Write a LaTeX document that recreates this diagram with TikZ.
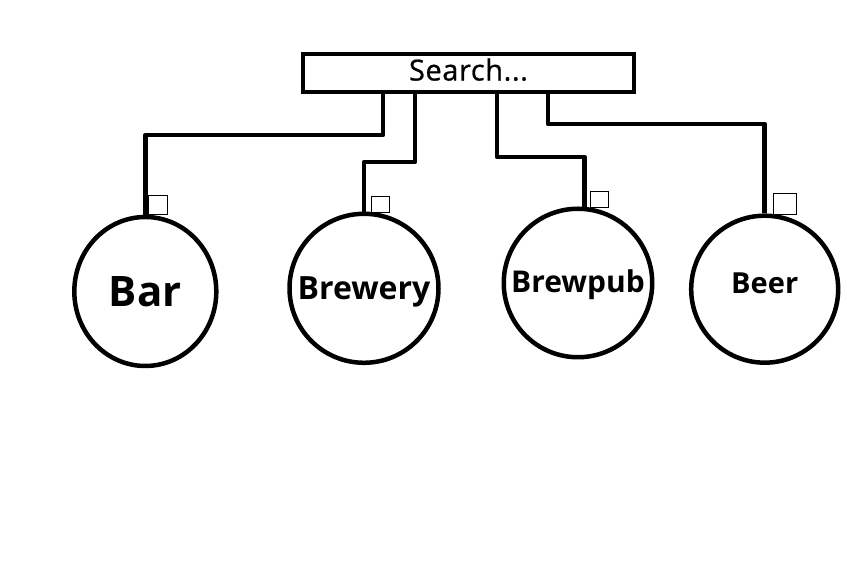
\documentclass[tikz,border=0pt]{standalone}
\usepackage{fontspec}
\setmainfont{Open Sans}
\newfontfamily\searchfont[FakeBold=0.8, LetterSpace=2]{Open Sans}
\usetikzlibrary{shapes, positioning}

\begin{document}
\begin{tikzpicture}[x=1pt, y=1pt, node distance=0pt, auto]
\tikzset{
    mysearch/.style={rectangle, draw=black, line width=4.5pt, inner sep=0pt, minimum width=331pt, minimum height=38pt, text depth=7pt, font=\searchfont\fontsize{29}{33}\selectfont},
    mycircle/.style={circle, draw=black, line width=4.5pt, inner sep=0pt, font=\bfseries},
    mybox/.style={rectangle, draw=black, line width=1pt, inner sep=0pt},
    myline/.style={line width=4.5pt, line join=round}
}
\useasboundingbox (0,0) rectangle (847,569);
\node[mysearch] (search) at (468.5,496) {Search...};
\node[mycircle, ellipse, minimum width=142pt, minimum height=149pt, font=\bfseries\fontsize{42}{50}\selectfont] (bar) at (145.3,277.5) {Bar};
\node[mycircle, minimum size=149pt, text depth=0pt, font=\bfseries\fontsize{32}{38}\selectfont] (brewery) at (364,280.7) {Brewery};
\node[mycircle, minimum size=148.5pt, text depth=3pt, font=\bfseries\fontsize{30}{36}\selectfont] (brewpub) at (578,286) {Brewpub};
\node[mycircle, minimum size=147pt, text depth=12pt, font=\bfseries\fontsize{29}{34}\selectfont] (beer) at (764.7,279.8) {Beer};
% little boxes on top of the circles
\node[mybox, minimum width=19pt, minimum height=19pt, above right=0pt and 3pt of bar.north] (bar_box) {};
\node[mybox, minimum width=18pt, minimum height=16pt, above right=-1pt and 7pt of brewery.north] (brewery_box) {};
\node[mybox, minimum width=18pt, minimum height=16pt, above right=-2pt and 12pt of brewpub.north] (brewpub_box) {};
\node[mybox, minimum width=23pt, minimum height=21pt, above right=-2pt and 8pt of beer.north] (beer_box) {};
% bends of the wires
\coordinate (k1) at (383,434);
\coordinate (k2) at (415,407);
\coordinate (k3) at (497,412);
\coordinate (k4) at (548,445);
\draw[myline] (search.south -| k1) -- (k1) -| (bar.north);
\draw[myline] (search.south -| k2) -- (k2) -| (brewery.north);
\draw[myline] (search.south -| k3) -- (k3) -| (brewpub.85);
\draw[myline] (search.south -| k4) -- (k4) -| (beer.north);
\end{tikzpicture}
\end{document}
